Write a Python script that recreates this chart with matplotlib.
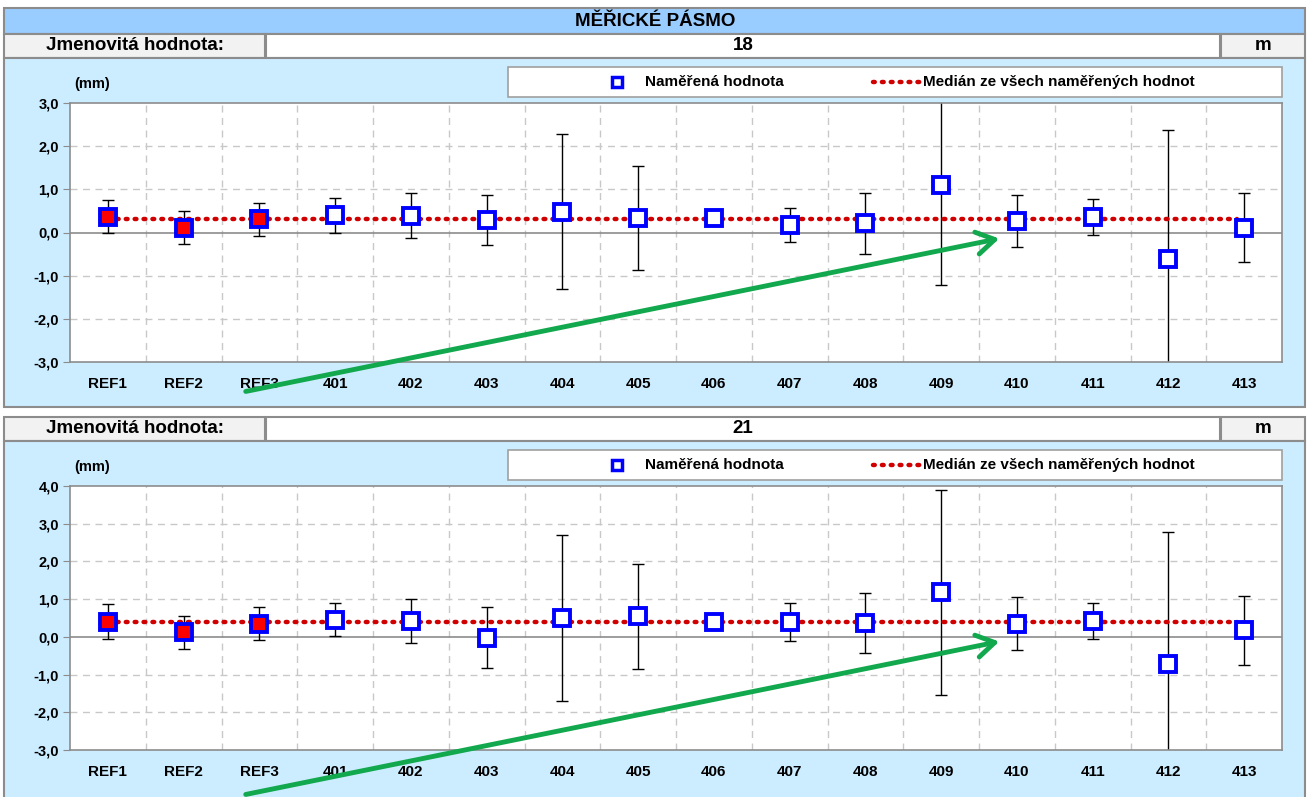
import numpy as np
import matplotlib
matplotlib.use("Agg")
import matplotlib.pyplot as plt
from matplotlib.patches import Rectangle, FancyArrowPatch

plt.rcParams['font.family'] = ['Liberation Sans Narrow', 'Liberation Sans', 'DejaVu Sans']
plt.rcParams['font.weight'] = 'bold'

categories = ['REF1', 'REF2', 'REF3', '401', '402', '403', '404', '405',
              '406', '407', '408', '409', '410', '411', '412', '413']
is_ref = [True, True, True] + [False] * 13

# jmenovitá hodnota 18 m
vals_18 = [0.37, 0.11, 0.31, 0.40, 0.39, 0.29, 0.48, 0.34,
           0.33, 0.18, 0.21, 1.09, 0.26, 0.36, -0.61, 0.11]
err_18 = [0.38, 0.38, 0.38, 0.40, 0.52, 0.59, 1.80, 1.20,
          0.00, 0.39, 0.70, 2.30, 0.60, 0.41, 2.99, 0.80]
median_18 = 0.32

# jmenovitá hodnota 21 m
vals_21 = [0.40, 0.12, 0.35, 0.46, 0.42, -0.02, 0.51, 0.55,
           0.39, 0.39, 0.37, 1.18, 0.35, 0.42, -0.71, 0.17]
err_21 = [0.46, 0.44, 0.44, 0.43, 0.58, 0.80, 2.20, 1.39,
          0.00, 0.51, 0.80, 2.71, 0.70, 0.48, 3.48, 0.92]
median_21 = 0.39

W, H = 1308, 797
fig = plt.figure(figsize=(W / 100, H / 100), dpi=100)
fig.patch.set_facecolor('white')

BLUE_BG = '#CCECFF'
GREY = '#8C8C8C'
MED_STYLE = dict(color='#D00000', lw=3.2, ls=(0, (0.4, 1.6)), dash_capstyle='round')


def fbox(x0, y0, x1, y1):
    return [x0 / W, 1 - y1 / H, (x1 - x0) / W, (y1 - y0) / H]


def rect(x0, y0, x1, y1, fc, ec=GREY, lw=1.5, z=0):
    fig.patches.append(Rectangle((x0 / W, 1 - y1 / H), (x1 - x0) / W, (y1 - y0) / H,
                                 transform=fig.transFigure, fc=fc, ec=ec, lw=lw, zorder=z))


def ftext(x, y, s, **kw):
    fig.text(x / W, 1 - y / H, s, **kw)


def panel(top, nominal, vals, errs, med, ylo, yhi, ybot, pbot):
    # header row
    rect(4, top, 265, top + 24, '#F2F2F2')
    rect(266, top, 1220, top + 24, 'white')
    rect(1221, top, 1305, top + 24, '#F2F2F2')
    ftext(135, top + 12, 'Jmenovitá hodnota:', ha='center', va='center', fontsize=13.5)
    ftext(743, top + 12, nominal, ha='center', va='center', fontsize=13.5)
    ftext(1263, top + 12, 'm', ha='center', va='center', fontsize=13.5)
    # panel background
    rect(4, top + 24, 1305, pbot, BLUE_BG)
    # legend box
    rect(508, top + 33, 1282, top + 63, 'white', ec='#A0A0A0', lw=1.2, z=1)
    ftext(92, top + 50, '(mm)', ha='center', va='center', fontsize=10.5)

    ax = fig.add_axes(fbox(70, top + 69, 1282, ybot))
    ax.set_zorder(5)
    ax.set_facecolor('white')
    x = np.arange(len(categories))
    ticks = np.arange(ylo, yhi + 0.5, 1.0)
    ax.set_xlim(-0.5, len(categories) - 0.5)
    ax.set_ylim(ylo, yhi)
    ax.set_yticks(ticks)
    ax.set_yticklabels([f'{v:.1f}'.replace('.', ',') for v in ticks],
                       fontsize=10.5, fontweight='bold')
    ax.set_xticks(x)
    ax.set_xticklabels(categories, fontsize=11, fontweight='bold')
    ax.tick_params(axis='x', length=0, pad=11)
    ax.tick_params(axis='y', length=5, color=GREY, pad=3)
    for xs in x[:-1] + 0.5:
        ax.axvline(xs, color='#C8C8C8', lw=1, ls=(0, (5, 4)), zorder=1)
    for yv in ticks[1:-1]:
        if yv != 0:
            ax.axhline(yv, color='#C8C8C8', lw=1, ls=(0, (5, 4)), zorder=1)
    ax.axhline(0, color=GREY, lw=1.2, zorder=1)
    for s in ax.spines.values():
        s.set_color(GREY)
        s.set_linewidth(1.2)

    ax.errorbar(x, vals, yerr=errs, fmt='none', ecolor='black', elinewidth=1,
                capsize=4, capthick=1, zorder=2)
    ax.plot([x[0], x[-1] - 0.1], [med, med], zorder=3, **MED_STYLE)
    face = ['red' if r else 'white' for r in is_ref]
    for xi, v, fc in zip(x, vals, face):
        ax.plot(xi, v, 's', ms=11, mfc=fc, mec='#0000FF', mew=2.8, zorder=4)

    # legend content
    lax = fig.add_axes(fbox(508, top + 33, 1282, top + 63))
    lax.set_zorder(5)
    lax.set_xlim(508, 1282)
    lax.set_ylim(63, 33)
    lax.axis('off')
    lax.plot([617], [48], 's', ms=7, mfc='white', mec='#0000FF', mew=2.5)
    lax.text(645, 48, 'Naměřená hodnota', va='center', ha='left', fontsize=11)
    lax.plot([873, 920], [48, 48], **MED_STYLE)
    lax.text(923, 48, 'Medián ze všech naměřených hodnot', va='center', ha='left', fontsize=11)
    return ax


# title bar
rect(4, 8, 1305, 34, '#99CCFF')
ftext(655, 21, 'MĚŘICKÉ PÁSMO', ha='center', va='center', fontsize=13.5)

panel(34, '18', vals_18, err_18, median_18, -3, 3, 362, 407)
panel(417, '21', vals_21, err_21, median_21, -3, 4, 750, 800)

# green arrows
for y0, y1 in [(392, 238), (795, 641)]:
    fig.add_artist(FancyArrowPatch(
        (243 / W, 1 - y0 / H), (1002 / W, 1 - y1 / H), transform=fig.transFigure,
        arrowstyle='->,head_length=13,head_width=8', color='#12A84E', lw=3.5,
        mutation_scale=1, zorder=10))

fig.savefig('out.png', dpi=100)
